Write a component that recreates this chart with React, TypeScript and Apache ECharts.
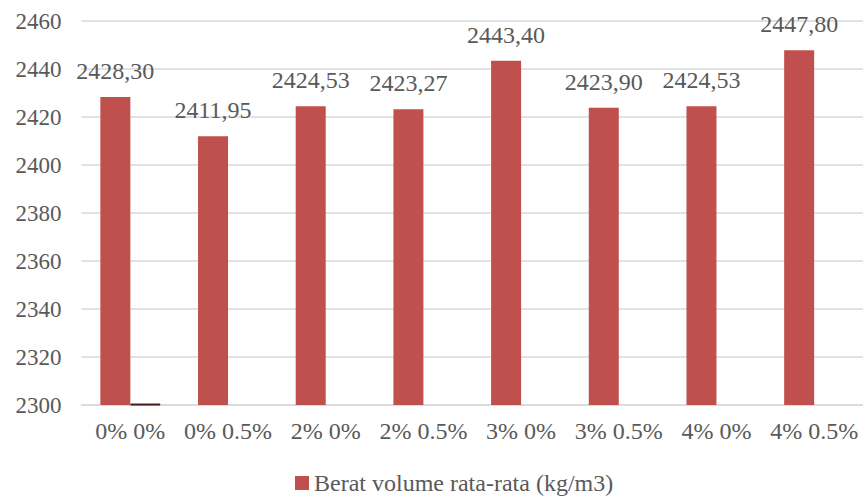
import React, { useEffect, useRef } from "react";
import * as echarts from "echarts";

const categories = ["0% 0%", "0% 0.5%", "2% 0%", "2% 0.5%", "3% 0%", "3% 0.5%", "4% 0%", "4% 0.5%"];
const beratVolume = [2428.3, 2411.95, 2424.53, 2423.27, 2443.4, 2423.9, 2424.53, 2447.8];
const seriSisa = [2300.6, null, null, null, null, null, null, null];
const seriesName = "Berat volume rata-rata (kg/m3)";

const FONT = '"Times New Roman", "Liberation Serif", serif';
const TEXT = "#595959";
const RED = "#C0504D";

export default function App() {
  const ref = useRef<HTMLDivElement>(null);

  useEffect(() => {
    if (!ref.current) return;
    const chart = echarts.init(ref.current, null, { renderer: "svg" });
    chart.setOption({
      animation: false,
      backgroundColor: "#ffffff",
      textStyle: { fontFamily: FONT },
      grid: { left: 81.5, right: -10.5, top: 21, bottom: 92, containLabel: false },
      legend: {
        data: [seriesName],
        bottom: -3,
        left: 290,
        icon: "rect",
        itemWidth: 14,
        itemHeight: 14,
        textStyle: { fontFamily: FONT, fontSize: 24, color: TEXT },
      },
      xAxis: {
        type: "category",
        data: categories,
        axisTick: { show: false },
        axisLine: { lineStyle: { color: "#D9D9D9", width: 1.5 } },
        axisLabel: { fontFamily: FONT, fontSize: 24, color: TEXT, margin: 14, interval: 0 },
      },
      yAxis: {
        type: "value",
        min: 2300,
        max: 2460,
        interval: 20,
        axisLine: { show: false },
        axisTick: { show: false },
        splitLine: { lineStyle: { color: "#D9D9D9", width: 1.5 } },
        axisLabel: {
          fontFamily: FONT,
          fontSize: 23,
          color: TEXT,
          margin: 20,
          formatter: (v: number) => String(v),
        },
      },
      series: [
        {
          name: seriesName,
          type: "bar",
          data: beratVolume,
          barWidth: 30,
          barGap: "0%",
          itemStyle: { color: RED },
          label: {
            show: true,
            position: "top",
            distance: 14,
            fontFamily: FONT,
            fontSize: 24,
            color: TEXT,
            formatter: (p: any) => p.value.toFixed(2).replace(".", ","),
          },
        },
        {
          name: "Seri 2",
          type: "bar",
          data: seriSisa,
          barWidth: 30,
          barGap: "0%",
          z: 3,
          itemStyle: { color: RED, borderColor: "#2b1010", borderWidth: 1 },
          label: { show: false },
        },
      ],
    });
    return () => chart.dispose();
  }, []);

  return (
    <div
      ref={ref}
      style={{ position: "fixed", left: 0, top: 0, width: 863, height: 497, background: "#fff" }}
    />
  );
}
